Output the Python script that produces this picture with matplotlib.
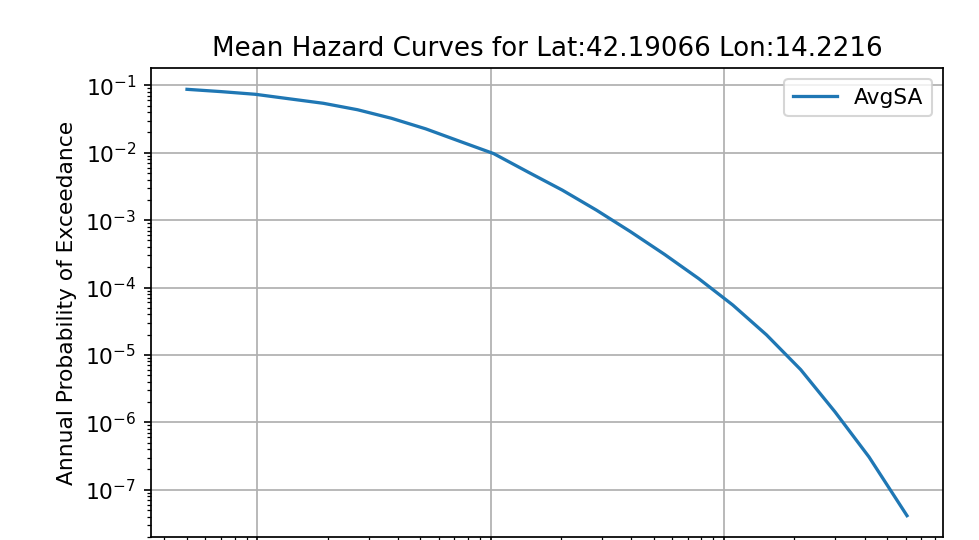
import matplotlib
matplotlib.use("Agg")
import matplotlib.pyplot as plt

# Intensity measure levels (g) and mean annual probability of exceedance
iml = [0.005, 0.007, 0.0098, 0.0137, 0.0192, 0.0269, 0.0376, 0.0527, 0.0738,
       0.103, 0.145, 0.203, 0.284, 0.397, 0.556, 0.778, 1.09, 1.52, 2.13,
       2.99, 4.18, 6.08]
poe = [0.0872, 0.0806, 0.0736, 0.0631, 0.0541, 0.0434, 0.0324, 0.0226, 0.01475,
       0.0097, 0.00514, 0.00278, 0.001406, 6.75e-4, 3.10e-4, 1.359e-4, 5.5e-5,
       1.985e-5, 6.05e-6, 1.426e-6, 3.06e-7, 4.12e-8]
series_label = "AvgSA"
title = "Mean Hazard Curves for Lat:42.19066 Lon:14.2216"
ylabel = "Annual Probability of Exceedance"

s = 1.045
plt.rcParams.update({
    "font.size": 10 * s,
    "axes.titlesize": 12 * s,
    "axes.labelsize": 10 * s,
    "xtick.labelsize": 10 * s,
    "ytick.labelsize": 10 * s,
    "legend.fontsize": 10 * s,
    "lines.linewidth": 1.5 * s,
    "grid.linewidth": 0.8 * s,
    "axes.linewidth": 0.8 * s,
})

fig = plt.figure(figsize=(979 / 150, 540 / 150), dpi=150)
ax = fig.add_axes([151 / 979, 1 - 537 / 540, (943 - 151) / 979, (537 - 68) / 540])
ax.loglog(iml, poe, label=series_label)
ax.grid(True)
ax.set_title(title)
ax.set_ylabel(ylabel)
ax.set_xlabel("Intensity Measure Level [g]")
ax.legend(loc="upper right")
fig.savefig("out.png", dpi=150)
